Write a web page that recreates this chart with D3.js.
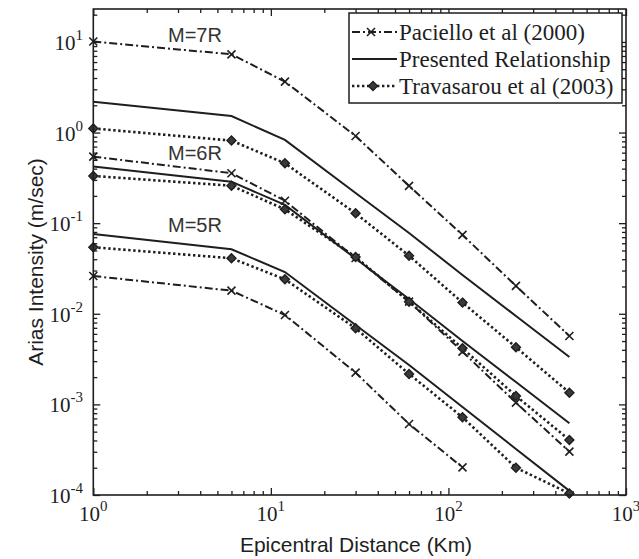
<!DOCTYPE html>
<html>
<head>
<meta charset="utf-8">
<script src="https://cdn.jsdelivr.net/npm/d3@7"></script>
<style>
  body { margin: 0; background: #fff; }
  svg { display: block; }
</style>
</head>
<body>
<svg id="chart" width="639" height="559"></svg>
<script>
// Distances (km) where the curves are sampled
var distances = [1, 6, 12, 30, 60, 120, 240, 480];

// Arias intensity (m/sec)
var pacielloM7   = [10.1, 7.3, 3.65, 0.915, 0.258, 0.0742, 0.0203, 0.00569];
var presentedM7  = [2.19, 1.52, 0.83, 0.215, 0.078, 0.0268, 0.00946, 0.00333];
var travasarouM7 = [1.11, 0.815, 0.458, 0.1285, 0.0437, 0.01328, 0.00427, 0.001346];

var pacielloM6   = [0.542, 0.356, 0.177, 0.0413, 0.0136, 0.00382, 0.001045, 0.000301];
var presentedM6  = [0.421, 0.287, 0.159, 0.0407, 0.01455, 0.00501, 0.001766, 0.000618];
var travasarouM6 = [0.332, 0.259, 0.142, 0.0424, 0.0136, 0.00416, 0.00124, 0.000405];

var pacielloM5   = [0.0261, 0.018, 0.0097, 0.00224, 0.000608, 0.000202];
var presentedM5  = [0.076, 0.0515, 0.0289, 0.00751, 0.00272, 0.000935, 0.000322, 0.000111];
var travasarouM5 = [0.0542, 0.041, 0.024, 0.00692, 0.00217, 0.000721, 0.0002, 0.000104];

var magnitudeLabels = ["M=7R", "M=6R", "M=5R"];
var labelValues = [10, 0.5, 0.08];   // baseline of each label, in data units
var legendNames = ["Paciello et al (2000)", "Presented Relationship", "Travasarou et al (2003)"];
var xTickExps = [0, 1, 2, 3];
var yTickExps = [-4, -3, -2, -1, 0, 1];

//--------------------------------SCALES-----------------------------------
var plotLeft = 93.3, plotRight = 626, plotTop = 9, plotBottom = 495;
var ink = "#1e1e1e";

var x = d3.scaleLog().domain([1, 1000]).range([plotLeft, plotRight]);
var y = d3.scaleLog().domain([1e-4, 23.1]).range([plotBottom, plotTop]);

var svg = d3.select("#chart");

//--------------------------------TICKS------------------------------------
var xMinor = [], yMinor = [];
[0, 1, 2].forEach(function(e){
	for (var k = 2; k < 10; k++) xMinor.push(k * Math.pow(10, e));
});
[-4, -3, -2, -1, 0, 1].forEach(function(e){
	for (var k = 2; k < 10; k++){
		var v = k * Math.pow(10, e);
		if (v < 23.1) yMinor.push(v);
	}
});
var xMajor = xTickExps.map(function(e){ return Math.pow(10, e); });
var yMajor = yTickExps.map(function(e){ return Math.pow(10, e); });

function drawAxis(axis, transform){
	var g = svg.append("g").attr("transform", transform).call(axis);
	g.select(".domain").remove();
	g.selectAll("line").attr("stroke", ink).attr("stroke-width", 1.3);
}
drawAxis(d3.axisBottom(x).tickValues(xMajor).tickSize(-7).tickFormat(""), "translate(0," + plotBottom + ")");
drawAxis(d3.axisBottom(x).tickValues(xMinor).tickSize(-4).tickFormat(""), "translate(0," + plotBottom + ")");
drawAxis(d3.axisTop(x).tickValues(xMajor).tickSize(-7).tickFormat(""), "translate(0," + plotTop + ")");
drawAxis(d3.axisTop(x).tickValues(xMinor).tickSize(-4).tickFormat(""), "translate(0," + plotTop + ")");
drawAxis(d3.axisLeft(y).tickValues(yMajor).tickSize(-7).tickFormat(""), "translate(" + plotLeft + ",0)");
drawAxis(d3.axisLeft(y).tickValues(yMinor).tickSize(-4).tickFormat(""), "translate(" + plotLeft + ",0)");
drawAxis(d3.axisRight(y).tickValues(yMajor).tickSize(-7).tickFormat(""), "translate(" + plotRight + ",0)");
drawAxis(d3.axisRight(y).tickValues(yMinor).tickSize(-4).tickFormat(""), "translate(" + plotRight + ",0)");

//Tick labels as 10 with a raised exponent.
function powerLabel(sel, e){
	sel.append("tspan").text("10");
	sel.append("tspan").attr("dy", -10).attr("font-size", "15px").text(e);
}
xTickExps.forEach(function(e){
	var t = svg.append("text")
		.attr("x", x(Math.pow(10, e)))
		.attr("y", 521)
		.attr("text-anchor", "middle")
		.attr("font-family", "'Liberation Serif', 'Times New Roman', serif")
		.attr("font-size", "21px")
		.attr("fill", ink);
	powerLabel(t, e);
});
yTickExps.forEach(function(e){
	var t = svg.append("text")
		.attr("x", 83)
		.attr("y", y(Math.pow(10, e)) + 8)
		.attr("text-anchor", "end")
		.attr("font-family", "'Liberation Serif', 'Times New Roman', serif")
		.attr("font-size", "21px")
		.attr("fill", ink);
	powerLabel(t, e);
});

//--------------------------------CURVES-----------------------------------
var line = d3.line()
	.x(function(d){ return x(d[0]); })
	.y(function(d){ return y(d[1]); });

function pairs(values){
	return values.map(function(v, i){ return [distances[i], v]; });
}

var styles = {
	paciello:   { dash: "8,3,2,3", width: 2 },
	presented:  { dash: null, width: 2 },
	travasarou: { dash: "2.4,2.6", width: 2.6 }
};

var series = [
	["paciello", pacielloM7], ["presented", presentedM7], ["travasarou", travasarouM7],
	["paciello", pacielloM6], ["presented", presentedM6], ["travasarou", travasarouM6],
	["paciello", pacielloM5], ["presented", presentedM5], ["travasarou", travasarouM5]
];

function crossMark(g, cx, cy){
	g.append("path")
		.attr("d", "M" + (cx-4) + "," + (cy-4) + "L" + (cx+4) + "," + (cy+4) +
		           "M" + (cx-4) + "," + (cy+4) + "L" + (cx+4) + "," + (cy-4))
		.attr("stroke", ink).attr("stroke-width", 1.6).attr("fill", "none");
}
function diamondMark(g, cx, cy){
	g.append("path")
		.attr("d", "M" + cx + "," + (cy-4.5) + "L" + (cx+4.5) + "," + cy +
		           "L" + cx + "," + (cy+4.5) + "L" + (cx-4.5) + "," + cy + "Z")
		.attr("stroke", ink).attr("stroke-width", 1.4).attr("fill", "#3a3a3a");
}

var curves = svg.append("g");
series.forEach(function(s){
	var st = styles[s[0]];
	var pts = pairs(s[1]);
	curves.append("path")
		.datum(pts)
		.attr("d", line)
		.attr("fill", "none")
		.attr("stroke", ink)
		.attr("stroke-width", st.width)
		.attr("stroke-dasharray", st.dash);
	pts.forEach(function(p){
		if (s[0] === "paciello") crossMark(curves, x(p[0]), y(p[1]));
		if (s[0] === "travasarou") diamondMark(curves, x(p[0]), y(p[1]));
	});
});

//Magnitude labels.
magnitudeLabels.forEach(function(t, i){
	svg.append("text")
		.attr("x", 168)
		.attr("y", y(labelValues[i]))
		.attr("font-family", "'Liberation Sans', Arial, sans-serif")
		.attr("font-size", "20px")
		.attr("fill", "#333")
		.text(t);
});

//--------------------------------FRAME------------------------------------
svg.append("rect")
	.attr("x", plotLeft).attr("y", plotTop)
	.attr("width", plotRight - plotLeft).attr("height", plotBottom - plotTop)
	.attr("fill", "none").attr("stroke", ink).attr("stroke-width", 1.6);

//--------------------------------LEGEND-----------------------------------
var legend = svg.append("g");
legend.append("rect")
	.attr("x", 349).attr("y", 13).attr("width", 273).attr("height", 90)
	.attr("fill", "#fff").attr("stroke", ink).attr("stroke-width", 1.5);

var legendKeys = ["paciello", "presented", "travasarou"];
legendNames.forEach(function(name, i){
	var ly = 32 + i * 27;
	var st = styles[legendKeys[i]];
	legend.append("line")
		.attr("x1", 352).attr("x2", 397).attr("y1", ly).attr("y2", ly)
		.attr("stroke", ink).attr("stroke-width", st.width)
		.attr("stroke-dasharray", st.dash);
	if (i === 0) crossMark(legend, 371, ly);
	if (i === 2) diamondMark(legend, 373, ly);
	legend.append("text")
		.attr("x", 399).attr("y", ly + 7.5)
		.attr("font-family", "'Liberation Serif', 'Times New Roman', serif")
		.attr("font-size", "23px")
		.attr("fill", ink)
		.text(name);
});

//--------------------------------AXIS TITLES------------------------------
svg.append("text")
	.attr("x", 356).attr("y", 552)
	.attr("text-anchor", "middle")
	.attr("font-family", "'Liberation Sans', Arial, sans-serif")
	.attr("font-size", "21px")
	.attr("fill", ink)
	.text("Epicentral Distance (Km)");

svg.append("text")
	.attr("transform", "translate(43,262) rotate(-90)")
	.attr("text-anchor", "middle")
	.attr("font-family", "'Liberation Sans', Arial, sans-serif")
	.attr("font-size", "21px")
	.attr("fill", ink)
	.text("Arias Intensity (m/sec)");
</script>
</body>
</html>
